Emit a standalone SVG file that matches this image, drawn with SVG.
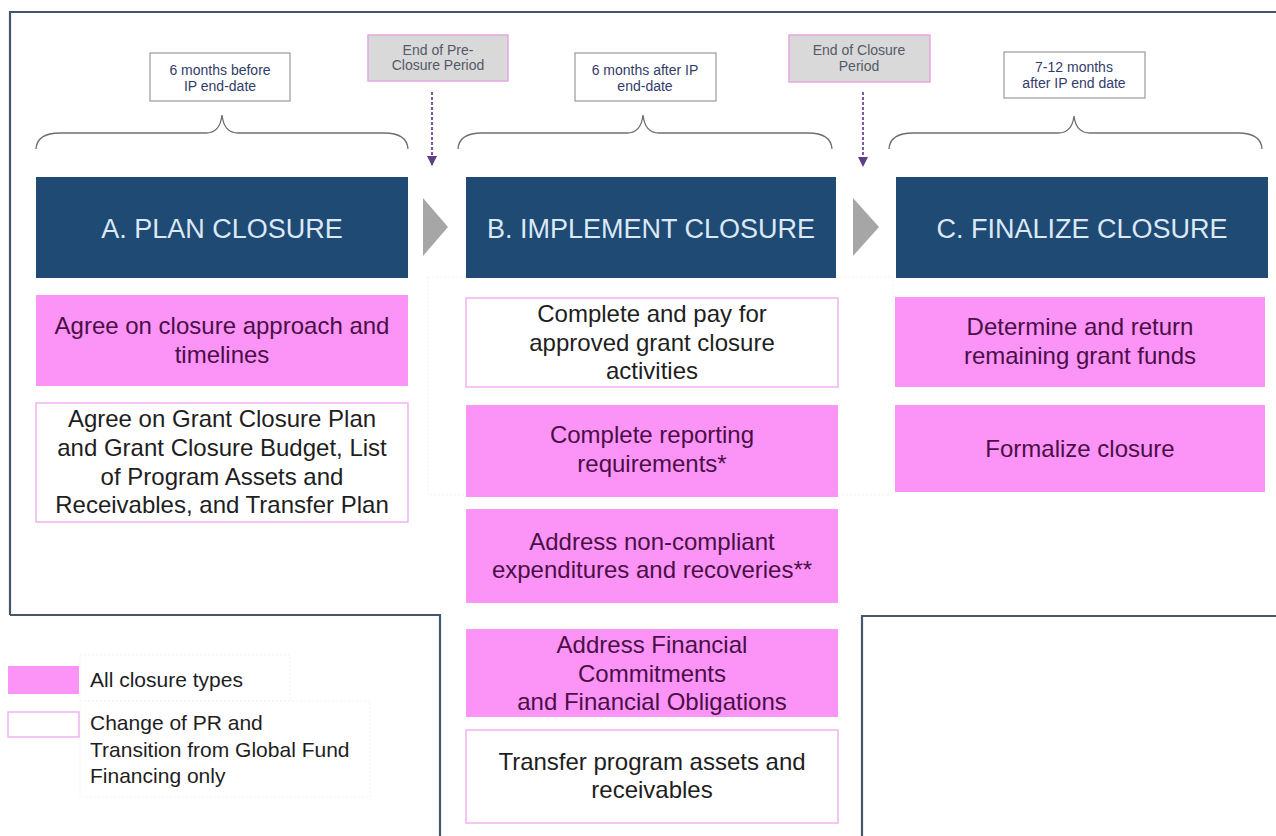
<svg xmlns="http://www.w3.org/2000/svg" width="1276" height="836" viewBox="0 0 1276 836">
<defs>
<marker id="dArrow" viewBox="0 0 10 10" refX="9" refY="5" markerWidth="10" markerHeight="10" markerUnits="userSpaceOnUse" orient="auto">
<path d="M0,0 L10,5 L0,10 Z" fill="#5f3f86"/>
</marker>
<style>
text{font-family:"Liberation Sans",Arial,sans-serif;text-anchor:middle}
.frame{fill:none;stroke:#46566b;stroke-width:2.2}
.hdr{fill:#1f4a74}
.hdrt{fill:#dce9f5;font-size:27px}
.pink{fill:#fc94f8}
.pinkt{fill:#4a0f46;font-size:24px}
.wbox{fill:#ffffff;stroke:#f2b2ef;stroke-width:1.5}
.wt{fill:#1e1e1e;font-size:24px}
.lbl{fill:#ffffff;stroke:#9a9a9a;stroke-width:1.2}
.lblt{fill:#323c6a;font-size:14px}
.gbox{fill:#d9d9d9;stroke:#e3a6df;stroke-width:1.5}
.gt{fill:#545a68;font-size:14px}
.brace{fill:none;stroke:#6f6f6f;stroke-width:1.3}
.dash{fill:none;stroke:#7a5aa8;stroke-width:2;stroke-dasharray:3 2}
.chev{fill:#a6a6a6}
.legt{fill:#1e1e1e;font-size:21px;text-anchor:start}
.faint{fill:none;stroke:#f3f3f3;stroke-width:1;stroke-dasharray:2 2}
</style>
</defs>
<rect width="1276" height="836" fill="#ffffff"/>

<g id="frame">
<path class="frame" d="M10,615 L10,12 L1276,12"/>
<path class="frame" d="M10,615 L440,615 L440,836"/>
<path class="frame" d="M862,836 L862,616 L1276,616"/>
<rect class="faint" x="428" y="277" width="465" height="218"/>
</g>

<g id="braces">
<path class="brace" d="M36,149 Q37,133 60,133 L206,133 Q220,133 222,115 Q224,133 238,133 L384,133 Q407,133 408,149"/>
<path class="brace" d="M458,149 Q459,133 482,133 L627,133 Q641,133 643,115 Q645,133 659,133 L808,133 Q831,133 832,149"/>
<path class="brace" d="M889,149 Q890,133 913,133 L1058,133 Q1072,133 1074,116 Q1076,133 1090,133 L1238,133 Q1261,133 1262,149"/>
</g>

<g id="label-before">
<rect class="lbl" x="150" y="53" width="140" height="48"/>
<text class="lblt" x="220" y="75">6 months before</text>
<text class="lblt" x="220" y="91">IP end-date</text>
</g>
<g id="label-after">
<rect class="lbl" x="575" y="53" width="141" height="48"/>
<text class="lblt" x="645" y="75">6 months after IP</text>
<text class="lblt" x="645" y="91">end-date</text>
</g>
<g id="label-7-12">
<rect class="lbl" x="1004" y="52" width="141" height="46"/>
<text class="lblt" x="1074" y="72">7-12 months</text>
<text class="lblt" x="1074" y="88">after IP end date</text>
</g>
<g id="end-pre-closure">
<rect class="gbox" x="368" y="35" width="140" height="46"/>
<text class="gt" x="438" y="55">End of Pre-</text>
<text class="gt" x="438" y="70">Closure Period</text>
</g>
<g id="end-closure">
<rect class="gbox" x="789" y="35" width="141" height="47"/>
<text class="gt" x="859" y="55">End of Closure</text>
<text class="gt" x="859" y="71">Period</text>
</g>

<g id="connectors">
<line class="dash" x1="432" y1="92" x2="432" y2="165" marker-end="url(#dArrow)"/>
<line class="dash" x1="863" y1="92" x2="863" y2="166" marker-end="url(#dArrow)"/>
<polygon class="chev" points="423,198 448,227 423,256"/>
<polygon class="chev" points="853,198 879,227 853,256"/>
</g>

<g id="header-a">
<rect class="hdr" x="36" y="177" width="372" height="101"/>
<text class="hdrt" x="222" y="238">A. PLAN CLOSURE</text>
</g>
<g id="header-b">
<rect class="hdr" x="466" y="177" width="370" height="101"/>
<text class="hdrt" x="651" y="238">B. IMPLEMENT CLOSURE</text>
</g>
<g id="header-c">
<rect class="hdr" x="896" y="177" width="372" height="101"/>
<text class="hdrt" x="1082" y="238">C. FINALIZE CLOSURE</text>
</g>

<g id="a1">
<rect class="pink" x="36" y="295" width="372" height="91"/>
<text class="pinkt" x="222" y="334">Agree on closure approach and</text>
<text class="pinkt" x="222" y="363">timelines</text>
</g>
<g id="a2">
<rect class="wbox" x="36" y="403" width="372" height="119"/>
<text class="wt" x="222" y="427">Agree on Grant Closure Plan</text>
<text class="wt" x="222" y="456">and Grant Closure Budget, List</text>
<text class="wt" x="222" y="485">of Program Assets and</text>
<text class="wt" x="222" y="513">Receivables, and Transfer Plan</text>
</g>

<g id="b1">
<rect class="wbox" x="466" y="298" width="372" height="89"/>
<text class="wt" x="652" y="322">Complete and pay for</text>
<text class="wt" x="652" y="351">approved grant closure</text>
<text class="wt" x="652" y="379">activities</text>
</g>
<g id="b2">
<rect class="pink" x="466" y="405" width="372" height="92"/>
<text class="pinkt" x="652" y="443">Complete reporting</text>
<text class="pinkt" x="652" y="472">requirements*</text>
</g>
<g id="b3">
<rect class="pink" x="466" y="509" width="372" height="94"/>
<text class="pinkt" x="652" y="550">Address non-compliant</text>
<text class="pinkt" x="652" y="578">expenditures and recoveries**</text>
</g>
<g id="b4">
<rect class="pink" x="466" y="629" width="372" height="88"/>
<text class="pinkt" x="652" y="653">Address Financial</text>
<text class="pinkt" x="652" y="682">Commitments</text>
<text class="pinkt" x="652" y="710">and Financial Obligations</text>
</g>
<g id="b5">
<rect class="wbox" x="466" y="730" width="372" height="93"/>
<text class="wt" x="652" y="770">Transfer program assets and</text>
<text class="wt" x="652" y="798">receivables</text>
</g>

<g id="c1">
<rect class="pink" x="895" y="297" width="370" height="90"/>
<text class="pinkt" x="1080" y="335">Determine and return</text>
<text class="pinkt" x="1080" y="364">remaining grant funds</text>
</g>
<g id="c2">
<rect class="pink" x="895" y="405" width="370" height="87"/>
<text class="pinkt" x="1080" y="457">Formalize closure</text>
</g>

<g id="legend">
<rect class="faint" x="80" y="655" width="210" height="46"/>
<rect class="faint" x="80" y="701" width="290" height="96"/>
<rect class="pink" x="8" y="666" width="71" height="28"/>
<rect class="wbox" x="8" y="712" width="71" height="25"/>
<text class="legt" x="90" y="687">All closure types</text>
<text class="legt" x="90" y="730">Change of PR and</text>
<text class="legt" x="90" y="757">Transition from Global Fund</text>
<text class="legt" x="90" y="783">Financing only</text>
</g>
</svg>
